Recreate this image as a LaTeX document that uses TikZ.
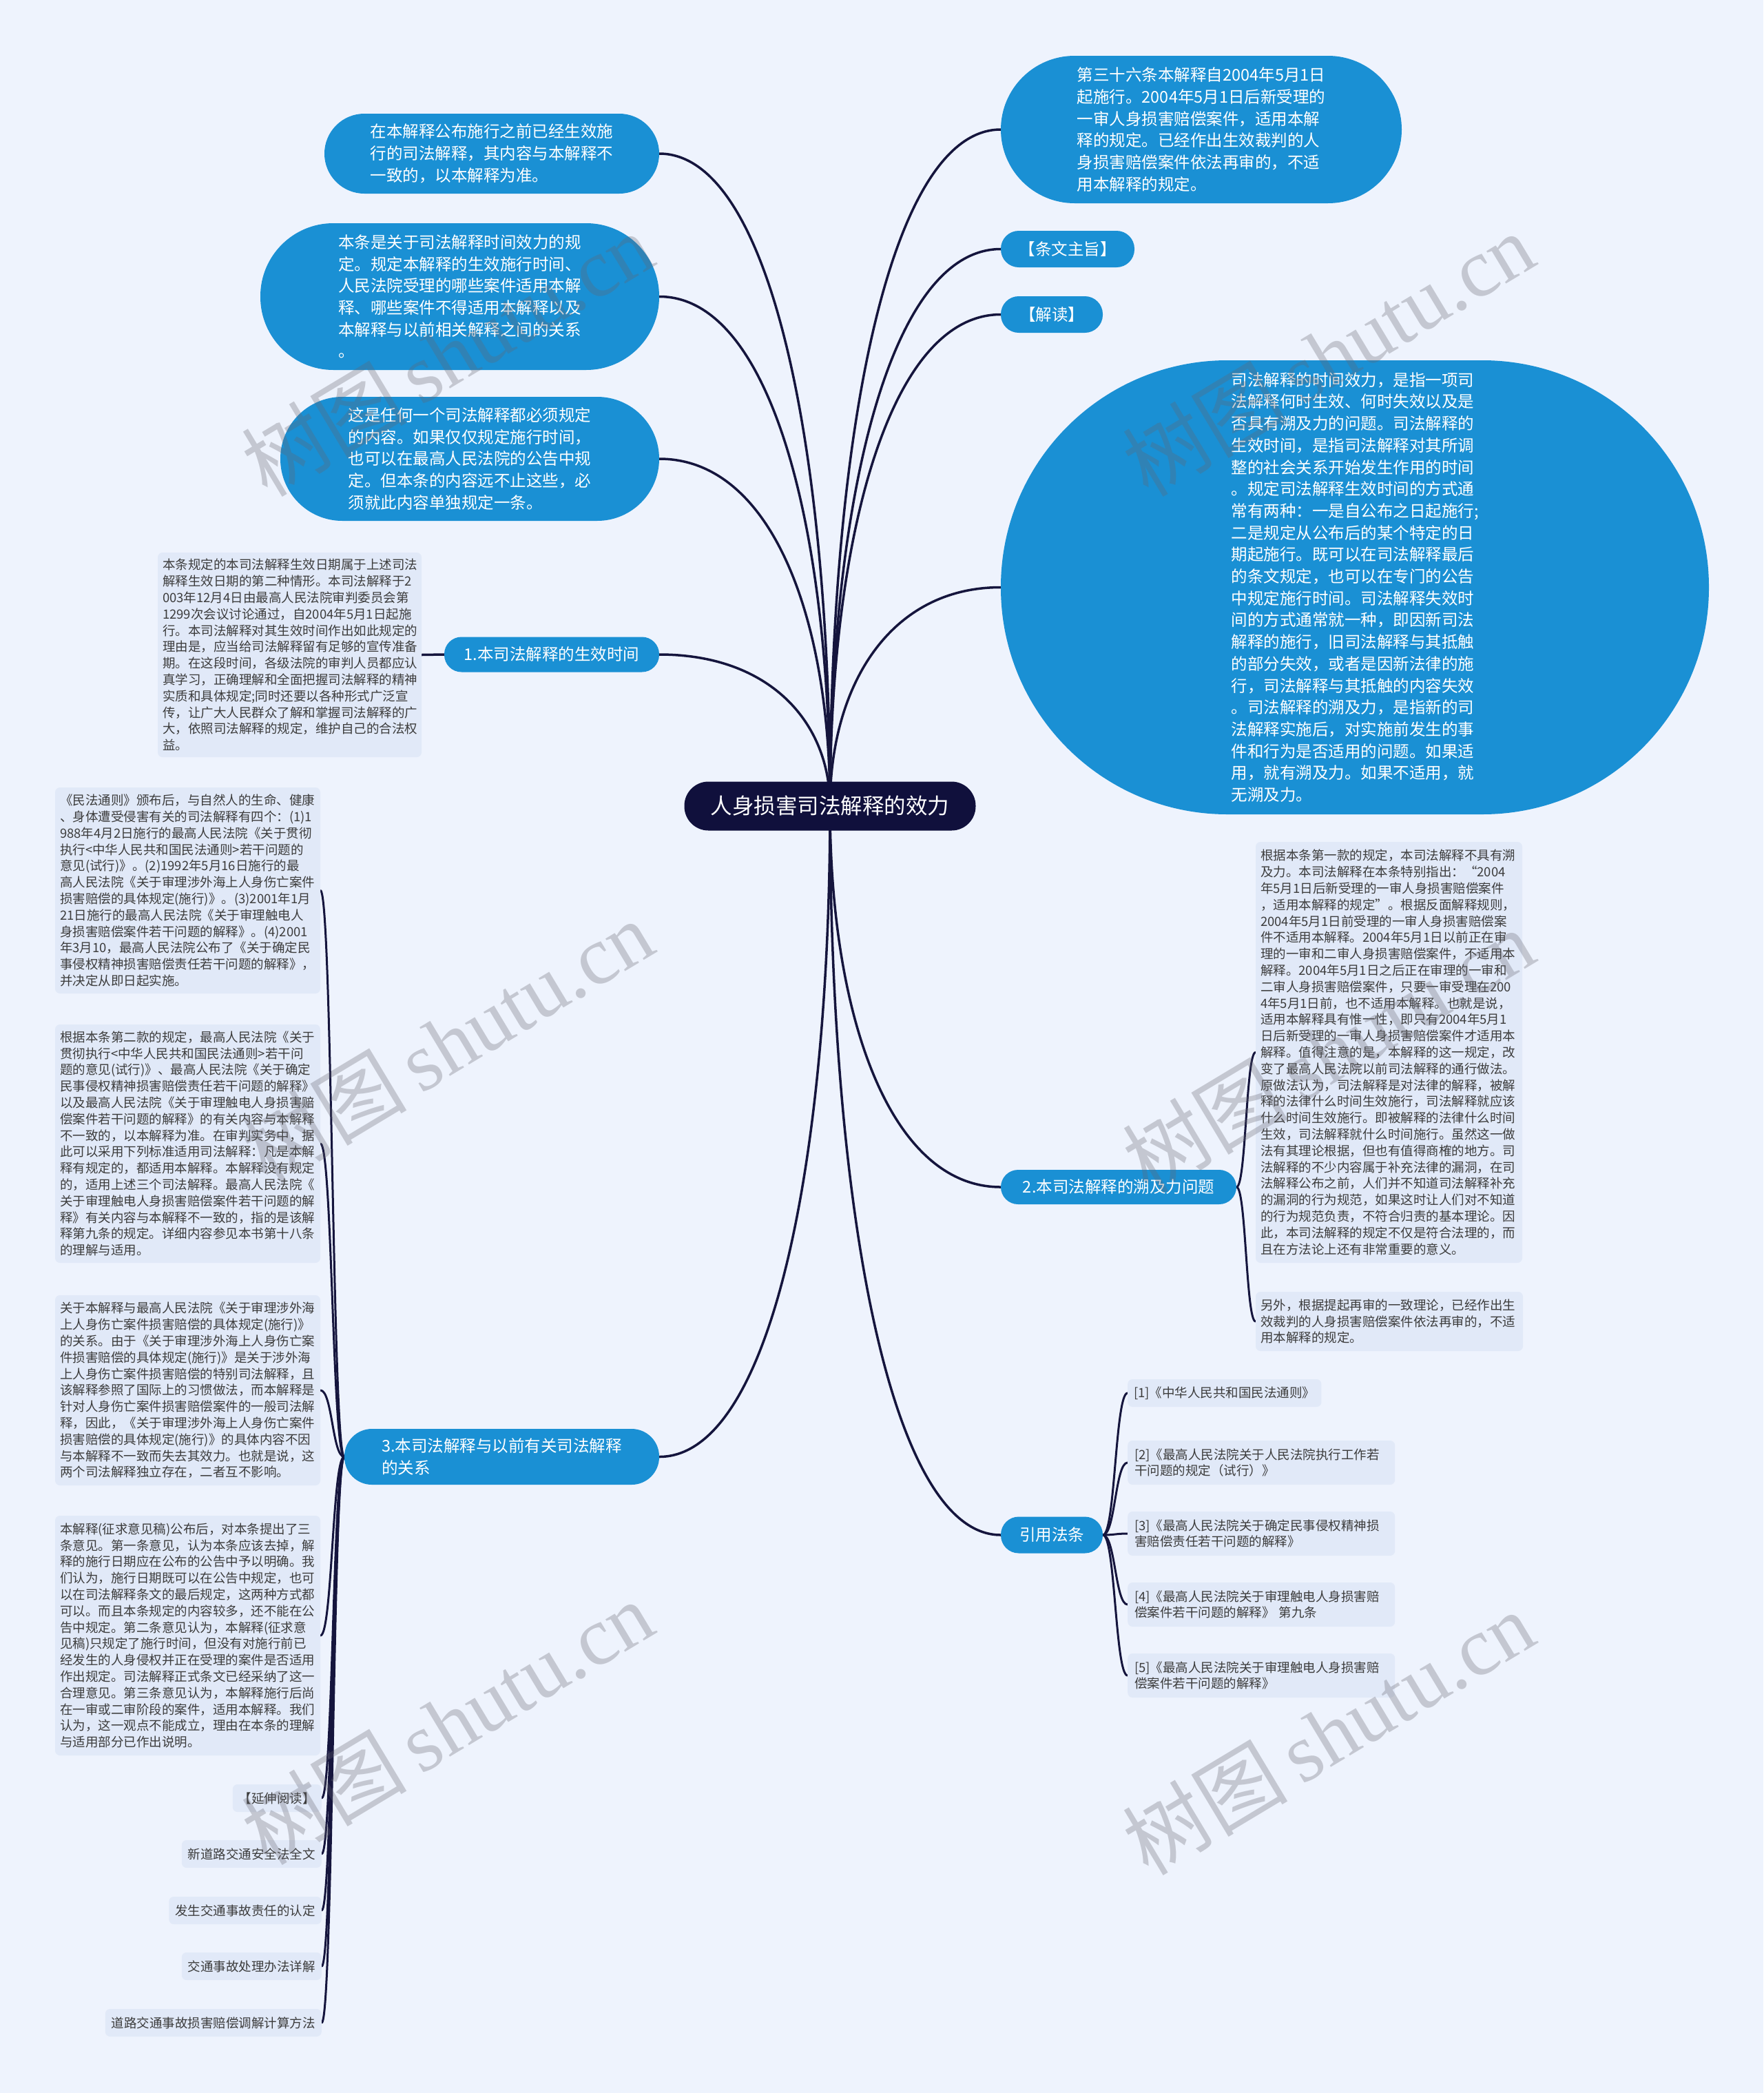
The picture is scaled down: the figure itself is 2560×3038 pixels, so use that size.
\documentclass[tikz,border=0pt]{standalone}
\usepackage{fontspec}
\setmainfont{Noto Sans CJK SC}
\newfontfamily\wmlatin{Liberation Serif}
\usetikzlibrary{calc}
\definecolor{bgc}{HTML}{EEF3FD}
\definecolor{mblue}{HTML}{1A90D4}
\definecolor{navy}{HTML}{10103C}
\definecolor{sfill}{HTML}{E1E9F8}
\definecolor{stext}{HTML}{3C3C3C}
\definecolor{edgec}{HTML}{15153D}
\definecolor{wmc}{HTML}{64646E}
\pgfdeclarelayer{bglayer}
\pgfdeclarelayer{edgelayer}
\pgfdeclarelayer{fglayer}
\pgfsetlayers{bglayer,edgelayer,main,fglayer}
\tikzset{
  bub/.style={fill=mblue, text=white, rounded corners=#1, inner sep=0pt, align=left,
    font=\fontsize{23.5pt}{31.7pt}\selectfont},
  sbox/.style={fill=sfill, text=stext, rounded corners=7pt, inner xsep=7pt, inner ysep=6pt,
    align=left, font=\fontsize{18.5pt}{23.8pt}\selectfont},
  sitem/.style={sbox, inner xsep=9pt, minimum height=40pt},
  edge/.style={draw=edgec, line width=3.5pt, line cap=round},
  mconn/.style={to path={.. controls ($(\tikztostart|-\tikztotarget)!0.45!(\tikztostart)$)
      and ($(\tikztostart|-\tikztotarget)!0.35!(\tikztotarget)$) .. (\tikztotarget)}},
  sconn/.style={to path={.. controls ($(\tikztostart)!0.5!(\tikztostart-|\tikztotarget)$)
      and ($(\tikztotarget)!0.5!(\tikztotarget-|\tikztostart)$) .. (\tikztotarget)}},
  wm/.style={rotate=31, text=wmc, opacity=0.3, font=\fontsize{120pt}{120pt}\selectfont}
}
\begin{document}
\begin{tikzpicture}[x=1pt, y=-1pt]
\begin{pgfonlayer}{bglayer}
  \fill[bgc] (0,0) rectangle (2560,3038);
\end{pgfonlayer}
\useasboundingbox (0,0) rectangle (2560,3038);

% center
\node[fill=navy, text=white, rounded corners=35pt, minimum width=423pt, minimum height=71pt,
  inner sep=0pt, font=\fontsize{31.5pt}{38pt}\selectfont] (ctr) at (1205,1170) {人身损害司法解释的效力};

% left bubbles
\node[bub=58pt, minimum width=486pt, minimum height=116pt] (l1) at (714,223)
 {在本解释公布施行之前已经生效施\\行的司法解释，其内容与本解释不\\一致的，以本解释为准。};
\node[bub=106pt, minimum width=579pt, minimum height=213pt] (l2) at (667.5,430.5)
 {本条是关于司法解释时间效力的规\\定。规定本解释的生效施行时间、\\人民法院受理的哪些案件适用本解\\释、哪些案件不得适用本解释以及\\本解释与以前相关解释之间的关系\\。};
\node[bub=90pt, minimum width=550pt, minimum height=180pt] (l3) at (682,666)
 {这是任何一个司法解释都必须规定\\的内容。如果仅仅规定施行时间，\\也可以在最高人民法院的公告中规\\定。但本条的内容远不止这些，必\\须就此内容单独规定一条。};
\node[bub=25pt, minimum width=312pt, minimum height=51pt] (l4) at (801,950)
 {1.本司法解释的生效时间};
\node[sbox, text width=369pt, minimum width=381pt, minimum height=297pt] (l4a) at (420.5,950.5)
 {本条规定的本司法解释生效日期属于上述司法\\解释生效日期的第二种情形。本司法解释于2\\003年12月4日由最高人民法院审判委员会第\\1299次会议讨论通过，自2004年5月1日起施\\行。本司法解释对其生效时间作出如此规定的\\理由是，应当给司法解释留有足够的宣传准备\\期。在这段时间，各级法院的审判人员都应认\\真学习，正确理解和全面把握司法解释的精神\\实质和具体规定;同时还要以各种形式广泛宣\\传，让广大人民群众了解和掌握司法解释的广\\大，依照司法解释的规定，维护自己的合法权\\益。};
\node[bub=40pt, minimum width=457pt, minimum height=81pt] (l5) at (728.5,2114.5)
 {3.本司法解释与以前有关司法解释\\的关系};

\node[sbox, text width=371pt, minimum width=385pt, minimum height=299pt] (l5a) at (272.5,1292.5)
 {《民法通则》颁布后，与自然人的生命、健康\\、身体遭受侵害有关的司法解释有四个：(1)1\\988年4月2日施行的最高人民法院《关于贯彻\\执行<中华人民共和国民法通则>若干问题的\\意见(试行)》。(2)1992年5月16日施行的最\\高人民法院《关于审理涉外海上人身伤亡案件\\损害赔偿的具体规定(施行)》。(3)2001年1月\\21日施行的最高人民法院《关于审理触电人\\身损害赔偿案件若干问题的解释》。(4)2001\\年3月10，最高人民法院公布了《关于确定民\\事侵权精神损害赔偿责任若干问题的解释》，\\并决定从即日起实施。};
\node[sbox, text width=371pt, minimum width=385pt, minimum height=346pt] (l5b) at (272.5,1660)
 {根据本条第二款的规定，最高人民法院《关于\\贯彻执行<中华人民共和国民法通则>若干问\\题的意见(试行)》、最高人民法院《关于确定\\民事侵权精神损害赔偿责任若干问题的解释》\\以及最高人民法院《关于审理触电人身损害赔\\偿案件若干问题的解释》的有关内容与本解释\\不一致的，以本解释为准。在审判实务中，据\\此可以采用下列标准适用司法解释：凡是本解\\释有规定的，都适用本解释。本解释没有规定\\的，适用上述三个司法解释。最高人民法院《\\关于审理触电人身损害赔偿案件若干问题的解\\释》有关内容与本解释不一致的，指的是该解\\释第九条的规定。详细内容参见本书第十八条\\的理解与适用。};
\node[sbox, text width=371pt, minimum width=385pt, minimum height=276pt] (l5c) at (272.5,2018)
 {关于本解释与最高人民法院《关于审理涉外海\\上人身伤亡案件损害赔偿的具体规定(施行)》\\的关系。由于《关于审理涉外海上人身伤亡案\\件损害赔偿的具体规定(施行)》是关于涉外海\\上人身伤亡案件损害赔偿的特别司法解释，且\\该解释参照了国际上的习惯做法，而本解释是\\针对人身伤亡案件损害赔偿案件的一般司法解\\释，因此，《关于审理涉外海上人身伤亡案件\\损害赔偿的具体规定(施行)》的具体内容不因\\与本解释不一致而失去其效力。也就是说，这\\两个司法解释独立存在，二者互不影响。};
\node[sbox, text width=371pt, minimum width=385pt, minimum height=348pt] (l5d) at (272.5,2374)
 {本解释(征求意见稿)公布后，对本条提出了三\\条意见。第一条意见，认为本条应该去掉，解\\释的施行日期应在公布的公告中予以明确。我\\们认为，施行日期既可以在公告中规定，也可\\以在司法解释条文的最后规定，这两种方式都\\可以。而且本条规定的内容较多，还不能在公\\告中规定。第二条意见认为，本解释(征求意\\见稿)只规定了施行时间，但没有对施行前已\\经发生的人身侵权并正在受理的案件是否适用\\作出规定。司法解释正式条文已经采纳了这一\\合理意见。第三条意见认为，本解释施行后尚\\在一审或二审阶段的案件，适用本解释。我们\\认为，这一观点不能成立，理由在本条的理解\\与适用部分已作出说明。};
\node[sitem, anchor=east] (l5e) at (467,2610) {【延伸阅读】};
\node[sitem, anchor=east] (l5f) at (467,2691) {新道路交通安全法全文};
\node[sitem, anchor=east] (l5g) at (467,2773) {发生交通事故责任的认定};
\node[sitem, anchor=east] (l5h) at (467,2854) {交通事故处理办法详解};
\node[sitem, anchor=east] (l5i) at (467,2936) {道路交通事故损害赔偿调解计算方法};

% right bubbles
\node[bub=107pt, minimum width=582pt, minimum height=214pt] (r1) at (1744,188)
 {第三十六条本解释自2004年5月1日\\起施行。2004年5月1日后新受理的\\一审人身损害赔偿案件，适用本解\\释的规定。已经作出生效裁判的人\\身损害赔偿案件依法再审的，不适\\用本解释的规定。};
\node[bub=26pt, minimum width=194pt, minimum height=53pt] (r2) at (1550,361.5) {【条文主旨】};
\node[bub=26pt, minimum width=148pt, minimum height=53pt] (r3) at (1527,456.5) {【解读】};
\node[bub=329pt, minimum width=1028pt, minimum height=659pt] (r4) at (1967,852.5)
 {司法解释的时间效力，是指一项司\\法解释何时生效、何时失效以及是\\否具有溯及力的问题。司法解释的\\生效时间，是指司法解释对其所调\\整的社会关系开始发生作用的时间\\。规定司法解释生效时间的方式通\\常有两种：一是自公布之日起施行;\\二是规定从公布后的某个特定的日\\期起施行。既可以在司法解释最后\\的条文规定，也可以在专门的公告\\中规定施行时间。司法解释失效时\\间的方式通常就一种，即因新司法\\解释的施行，旧司法解释与其抵触\\的部分失效，或者是因新法律的施\\行，司法解释与其抵触的内容失效\\。司法解释的溯及力，是指新的司\\法解释实施后，对实施前发生的事\\件和行为是否适用的问题。如果适\\用，就有溯及力。如果不适用，就\\无溯及力。};
\node[bub=25pt, minimum width=342pt, minimum height=50pt] (r5) at (1624,1723) {2.本司法解释的溯及力问题};
\node[sbox, text width=373pt, minimum width=387pt, minimum height=611pt] (r5a) at (2016.5,1527.5)
 {根据本条第一款的规定，本司法解释不具有溯\\及力。本司法解释在本条特别指出：“2004\\年5月1日后新受理的一审人身损害赔偿案件\\，适用本解释的规定”。根据反面解释规则，\\2004年5月1日前受理的一审人身损害赔偿案\\件不适用本解释。2004年5月1日以前正在审\\理的一审和二审人身损害赔偿案件，不适用本\\解释。2004年5月1日之后正在审理的一审和\\二审人身损害赔偿案件，只要一审受理在200\\4年5月1日前，也不适用本解释。也就是说，\\适用本解释具有惟一性，即只有2004年5月1\\日后新受理的一审人身损害赔偿案件才适用本\\解释。值得注意的是，本解释的这一规定，改\\变了最高人民法院以前司法解释的通行做法。\\原做法认为，司法解释是对法律的解释，被解\\释的法律什么时间生效施行，司法解释就应该\\什么时间生效施行。即被解释的法律什么时间\\生效，司法解释就什么时间施行。虽然这一做\\法有其理论根据，但也有值得商榷的地方。司\\法解释的不少内容属于补充法律的漏洞，在司\\法解释公布之前，人们并不知道司法解释补充\\的漏洞的行为规范，如果这时让人们对不知道\\的行为规范负责，不符合归责的基本理论。因\\此，本司法解释的规定不仅是符合法理的，而\\且在方法论上还有非常重要的意义。};
\node[sbox, text width=374pt, minimum width=388pt, minimum height=86pt] (r5b) at (2017,1918)
 {另外，根据提起再审的一致理论，已经作出生\\效裁判的人身损害赔偿案件依法再审的，不适\\用本解释的规定。};
\node[bub=26pt, minimum width=148pt, minimum height=53pt] (r6) at (1527,2228) {引用法条};
\node[sitem, anchor=west] (r6a) at (1637,2022) {[1]《中华人民共和国民法通则》};
\node[sbox, anchor=west, text width=368pt, inner xsep=10pt, minimum height=64pt] (r6b) at (1637,2123)
 {[2]《最高人民法院关于人民法院执行工作若\\干问题的规定（试行）》};
\node[sbox, anchor=west, text width=368pt, inner xsep=10pt, minimum height=64pt] (r6c) at (1637,2226)
 {[3]《最高人民法院关于确定民事侵权精神损\\害赔偿责任若干问题的解释》};
\node[sbox, anchor=west, text width=368pt, inner xsep=10pt, minimum height=64pt] (r6d) at (1637,2329)
 {[4]《最高人民法院关于审理触电人身损害赔\\偿案件若干问题的解释》 第九条};
\node[sbox, anchor=west, text width=368pt, inner xsep=10pt, minimum height=64pt] (r6e) at (1637,2432)
 {[5]《最高人民法院关于审理触电人身损害赔\\偿案件若干问题的解释》};

% connectors
\begin{pgfonlayer}{edgelayer}
  \foreach \n in {l1,l2,l3,l4,l5}
    \draw[edge] (ctr.center) to[mconn] (\n.east);
  \foreach \n in {r1,r2,r3,r4,r5,r6}
    \draw[edge] (ctr.center) to[mconn] (\n.west);
  \draw[edge] (l4.west) -- (l4a.east);
  \foreach \n in {l5a,l5b,l5c,l5d,l5e,l5f,l5g,l5h,l5i}
    \draw[edge, line width=3pt] (l5.west) to[sconn] (\n.east);
  \foreach \n in {r5a,r5b}
    \draw[edge, line width=3pt] (r5.east) to[sconn] (\n.west);
  \foreach \n in {r6a,r6b,r6c,r6d,r6e}
    \draw[edge, line width=3pt] (r6.east) to[sconn] (\n.west);
\end{pgfonlayer}

% watermarks
\begin{pgfonlayer}{fglayer}
  \foreach \wx/\wy [count=\i] in {649/514, 1928/514, 649/1512, 1928/1525, 649/2500, 1928/2515}
    \node[wm] (wm\i) at (\wx,\wy) {树图\,{\wmlatin shutu.cn}};
\end{pgfonlayer}
\end{tikzpicture}
\end{document}
